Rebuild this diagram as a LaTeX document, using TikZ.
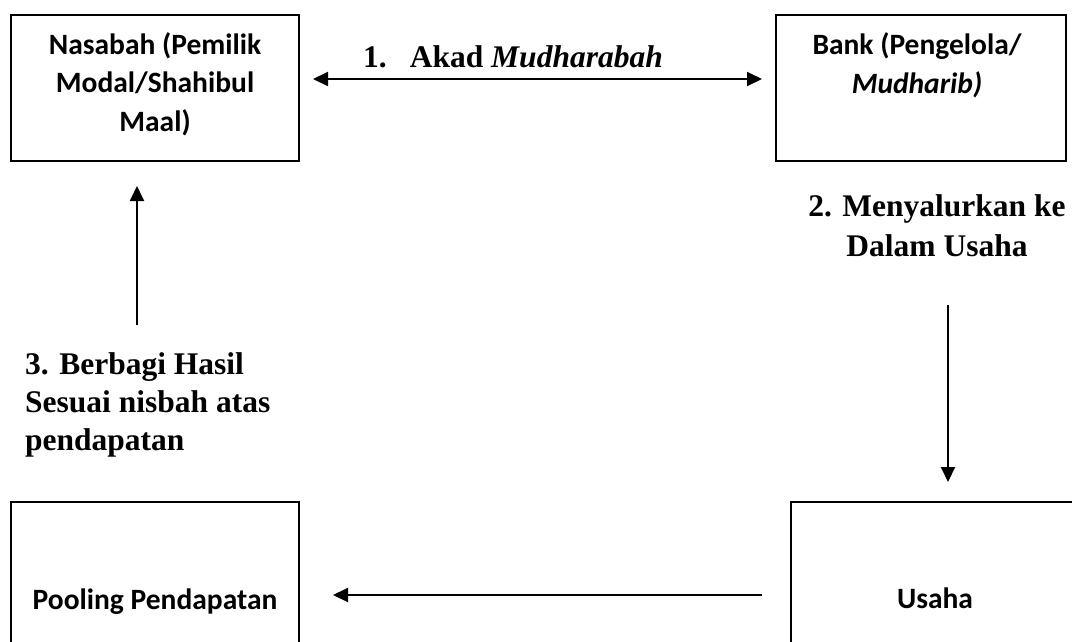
\documentclass[tikz,border=0pt]{standalone}
\usepackage{fontspec}
\setmainfont{Liberation Serif}
\newfontfamily\boxfont{Carlito}
\usetikzlibrary{arrows.meta,calc}
\tikzset{
  boxshape/.style={draw, line width=2pt, inner sep=0pt, fill=none},
  boxtext/.style={inner sep=0pt, align=center, font=\boxfont\bfseries\fontsize{29.5}{38.5}\selectfont},
  lbl/.style={inner sep=0pt, font=\bfseries\fontsize{31.5}{38}\selectfont},
  flow/.style={line width=2pt, -{Triangle[length=15pt,width=14pt]}},
  flowboth/.style={line width=2pt, {Triangle[length=15pt,width=14pt]}-{Triangle[length=15pt,width=14pt]}}
}
\begin{document}
\begin{tikzpicture}[x=1pt,y=-1pt]
\useasboundingbox[fill=white] (0,0) rectangle (1072,641);
% boxes
\node[boxshape, minimum width=288pt, minimum height=146pt] (A) at (155,88) {};
\node[boxshape, minimum width=290pt, minimum height=146pt] (B) at (921,88) {};
\node[boxshape, minimum width=288pt, minimum height=198pt] (C) at (155,601) {};
\node[boxshape, minimum width=319pt, minimum height=198pt] (D) at (950.5,601) {};
% box texts (base = baseline of last line)
\node[boxtext, anchor=base] (At) at (155,131) {Nasabah (Pemilik\\Modal/Shahibul\\Maal)};
\node[boxtext, anchor=base] (Bt) at (917,93) {Bank (Pengelola/\\\textit{Mudharib)}};
\node[boxtext, anchor=base] (Ct) at (155,609) {Pooling Pendapatan};
\node[boxtext, anchor=base] (Dt) at (935,608) {Usaha};
% labels
\node[lbl, anchor=base west] (L1) at (363,67) {1.\hspace{23pt}Akad \textit{Mudharabah}};
\node[lbl, anchor=base, align=center, font=\bfseries\fontsize{31.5}{40}\selectfont] (L2) at (937,256) {2. Menyalurkan ke\\Dalam Usaha};
\node[lbl, anchor=base west, align=left] (L3) at (25,450) {3. Berbagi Hasil\\Sesuai nisbah atas\\pendapatan};
% connectors
\coordinate (s2) at (948,305);
\coordinate (s3) at (137,325);
\draw[flowboth] ([shift={(13,-9)}]A.east) -- ([shift={(-13,-9)}]B.west);
\draw[flow] (s2) -- ([shift={(-2.5,-19)}]D.north);
\draw[flow] ([shift={(-28,-6)}]D.west) -- ([shift={(33,-6)}]C.east);
\draw[flow] (s3) -- ([shift={(-18,24)}]A.south);
\end{tikzpicture}
\end{document}
